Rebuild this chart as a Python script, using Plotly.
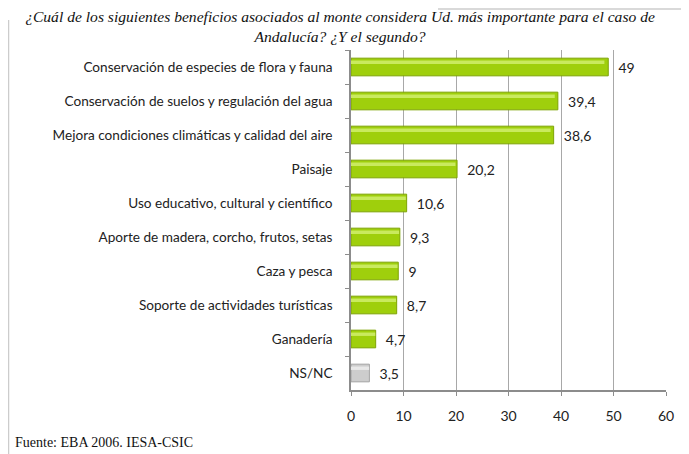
import plotly.graph_objects as go

categories = [
    "Conservación de especies de flora y fauna",
    "Conservación de suelos y regulación del agua",
    "Mejora condiciones climáticas y calidad del aire",
    "Paisaje",
    "Uso educativo, cultural y científico",
    "Aporte de madera, corcho, frutos, setas",
    "Caza y pesca",
    "Soporte de actividades turísticas",
    "Ganadería",
    "NS/NC",
]
values = [49, 39.4, 38.6, 20.2, 10.6, 9.3, 9, 8.7, 4.7, 3.5]
x_ticks = [0, 10, 20, 30, 40, 50, 60]

title_text = ("¿Cuál de los siguientes beneficios asociados al monte considera Ud. más importante para el caso de"
              "<br>Andalucía? ¿Y el segundo?")
source_text = "Fuente: EBA 2006. IESA-CSIC"

GREEN = "#9fcf0c"
GREEN_EDGE = "#7ea304"
GREEN_HI = "#c9ea5e"
GREY = "#cdcdcd"
GREY_EDGE = "#a4a4a4"
GREY_HI = "#e8e8e8"

is_nsnc = [c == "NS/NC" for c in categories]
colors = [GREY if n else GREEN for n in is_nsnc]
edges = [GREY_EDGE if n else GREEN_EDGE for n in is_nsnc]
his = [GREY_HI if n else GREEN_HI for n in is_nsnc]
labels = ["  " + (str(v).replace(".", ",")) for v in values]

W, H = 689, 454
L, R, T, B = 343, 31, 42, 72

fig = go.Figure()
fig.add_trace(go.Bar(
    y=categories, x=values, orientation="h",
    marker=dict(color=colors, line=dict(color=edges, width=1)),
    width=0.52,
    text=labels, textposition="outside", cliponaxis=False,
    textfont=dict(family="Lato", size=14, color="#222222"),
    hoverinfo="skip",
))
# glossy highlight stripe on the upper part of each bar
fig.add_trace(go.Bar(
    y=categories, x=[v * 0.985 for v in values], orientation="h",
    marker=dict(color=his, line=dict(width=0)),
    width=0.1, offset=-0.19,
    hoverinfo="skip",
))

fig.update_layout(
    width=W, height=H,
    margin=dict(l=L, r=R, t=T, b=B),
    paper_bgcolor="white", plot_bgcolor="white",
    showlegend=False, barmode="overlay",
    font=dict(family="Lato", size=14, color="#222222"),
    title=dict(
        text=title_text, xref="container", yref="container",
        x=332 / W, xanchor="center", y=1 - 14 / H, yanchor="top",
        font=dict(family="Liberation Serif", size=15.6, color="#111111", style="italic"),
    ),
)
fig.update_xaxes(
    range=[0, 60], tickvals=x_ticks, ticktext=[str(t) for t in x_ticks],
    showgrid=True, gridcolor="#a8a8a8", gridwidth=1,
    showline=True, linecolor="#8c8c8c", linewidth=1.5,
    ticks="outside", ticklen=4, tickcolor="#8c8c8c",
    zeroline=False, tickfont=dict(family="Lato", size=14, color="#222222"),
    ticklabelstandoff=8, automargin=False,
)
fig.update_yaxes(
    autorange="reversed", type="category",
    showline=True, linecolor="#8c8c8c", linewidth=1.5,
    ticks="outside", ticklen=4, tickcolor="#8c8c8c", tickson="boundaries",
    showgrid=False, ticklabelstandoff=14, automargin=False,
    tickfont=dict(family="Lato", size=13.6, color="#222222"),
)

fig.add_annotation(
    text=source_text, xref="paper", yref="paper",
    x=0, y=0, xanchor="left", yanchor="middle", showarrow=False,
    xshift=5 - L, yshift=-(434 - (H - B)),
    font=dict(family="Liberation Serif", size=14, color="#111111"),
)

# light frame around the figure
fig.add_shape(type="line", xref="paper", yref="paper",
              x0=(0.5 - L) / (W - L - R), x1=(0.5 - L) / (W - L - R),
              y0=-B / (H - T - B), y1=1 + (T - 12) / (H - T - B),
              line=dict(color="#cccccc", width=1.5))
fig.add_shape(type="line", xref="paper", yref="paper",
              x0=(430 - L) / (W - L - R), x1=(W - L) / (W - L - R),
              y0=1 + (T - 1) / (H - T - B), y1=1 + (T - 1) / (H - T - B),
              line=dict(color="#cccccc", width=1.5))
fig.write_html("out.html")
